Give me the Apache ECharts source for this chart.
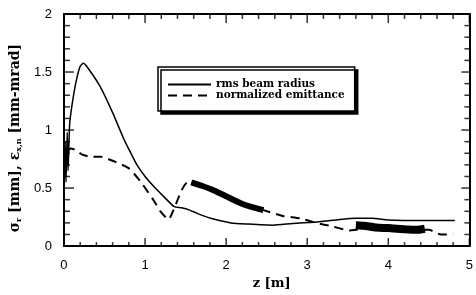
<!DOCTYPE html>
<html>
<head>
<meta charset="utf-8">
<script src="https://cdn.jsdelivr.net/npm/echarts@6/dist/echarts.min.js"></script>
<style>
  html, body { margin: 0; padding: 0; background: #fff; }
  #chart { width: 476px; height: 295px; }
</style>
</head>
<body>
<div id="chart"></div>
<script>
// values: [z (m), value]
var rmsRadius = [
  [0, 0.48], [0.015, 0.9], [0.025, 0.55], [0.04, 0.98], [0.05, 0.65], [0.07, 1.05],
  [0.1, 1.22], [0.15, 1.42], [0.2, 1.55], [0.24, 1.575], [0.3, 1.53], [0.45, 1.37],
  [0.6, 1.15], [0.74, 0.92], [0.84, 0.78], [0.9, 0.7], [1.0, 0.6], [1.1, 0.52],
  [1.24, 0.42], [1.36, 0.34], [1.45, 0.33], [1.55, 0.31], [1.65, 0.28], [1.81, 0.24],
  [2.06, 0.2], [2.26, 0.19], [2.58, 0.18], [2.82, 0.195], [3.15, 0.21], [3.4, 0.23],
  [3.6, 0.24], [3.8, 0.24], [4.0, 0.225], [4.4, 0.22], [4.82, 0.22]
];
var emittance = [
  [0, 0.55], [0.02, 0.72], [0.04, 0.8], [0.08, 0.84], [0.14, 0.83], [0.22, 0.79],
  [0.33, 0.77], [0.45, 0.77], [0.62, 0.73], [0.8, 0.67], [0.94, 0.56], [1.1, 0.4],
  [1.2, 0.29], [1.29, 0.23], [1.35, 0.31], [1.45, 0.48], [1.51, 0.545], [1.57, 0.56],
  [1.85, 0.48], [2.18, 0.37], [2.46, 0.31], [2.7, 0.26], [2.91, 0.24], [3.11, 0.2],
  [3.31, 0.17], [3.52, 0.135], [3.6, 0.14], [3.8, 0.16], [4.0, 0.15], [4.3, 0.14],
  [4.5, 0.14], [4.65, 0.1], [4.8, 0.1]
];
// noisy (thick) stretches of the emittance curve
var emitNoise1 = [[1.57, 0.55], [1.7, 0.52], [1.85, 0.48], [2.0, 0.43], [2.18, 0.37], [2.3, 0.34], [2.46, 0.31]];
var emitNoise2 = [[3.6, 0.18], [3.7, 0.175], [3.85, 0.16], [4.0, 0.155], [4.2, 0.145], [4.35, 0.14], [4.45, 0.15]];

// tick positions
var xMajorTicks = [0, 1, 2, 3, 4, 5];
var xMinorTicks = [0.2, 0.4, 0.6, 0.8, 1.2, 1.4, 1.6, 1.8, 2.2, 2.4, 2.6, 2.8, 3.2, 3.4, 3.6, 3.8, 4.2, 4.4, 4.6, 4.8];
var yMajorTicks = [0, 0.5, 1, 1.5, 2];
var yMinorTicks = [0.1, 0.2, 0.3, 0.4, 0.6, 0.7, 0.8, 0.9, 1.1, 1.2, 1.3, 1.4, 1.6, 1.7, 1.8, 1.9];

var xTicks = { min: 0, max: 5, interval: 1 };
var yTicks = { min: 0, max: 2, interval: 0.5 };

var chart = echarts.init(document.getElementById('chart'));

function axisLine(onZero) {
  return { show: true, onZero: onZero, lineStyle: { color: '#000', width: 2 } };
}
function labels(margin) {
  return { margin: margin, color: '#000', fontFamily: 'Liberation Sans', fontSize: 13 };
}
// inward tick marks drawn as small rects on the axis scales
function tickSeries(points, size, offset) {
  return {
    type: 'scatter', data: points, symbol: 'rect',
    symbolSize: size, symbolOffset: offset,
    itemStyle: { color: '#000' }, clip: false, silent: true, z: 5
  };
}
var tickMarks = [
  tickSeries(xMajorTicks.map(function (v) { return [v, 0]; }), [1.5, 8], [0, -4]),
  tickSeries(xMinorTicks.map(function (v) { return [v, 0]; }), [1.5, 4], [0, -2]),
  tickSeries(xMajorTicks.map(function (v) { return [v, 2]; }), [1.5, 9], [0, 4.5]),
  tickSeries(xMinorTicks.map(function (v) { return [v, 2]; }), [1.5, 5], [0, 2.5]),
  tickSeries(yMajorTicks.map(function (v) { return [0, v]; }), [10, 1.5], [5, 0]),
  tickSeries(yMinorTicks.map(function (v) { return [0, v]; }), [6, 1.5], [3, 0]),
  tickSeries(yMajorTicks.map(function (v) { return [5, v]; }), [8, 1.5], [-4, 0]),
  tickSeries(yMinorTicks.map(function (v) { return [5, v]; }), [5, 1.5], [-2.5, 0])
];

var option = {
  animation: false,
  grid: { left: 61, right: 4, top: 14, bottom: 46 },
  legend: {
    data: ['rms beam radius', 'normalized emittance'],
    orient: 'vertical',
    left: 158, top: 67,
    padding: [12, 10, 10, 9],
    itemWidth: 43, itemHeight: 8, itemGap: 0,
    itemStyle: { color: 'rgba(0,0,0,0)', borderWidth: 0, opacity: 0 },
    backgroundColor: '#fff',
    borderColor: '#000', borderWidth: 1.5, borderRadius: 0,
    shadowColor: '#000', shadowBlur: 0, shadowOffsetX: 3, shadowOffsetY: 3,
    textStyle: { color: '#000', fontFamily: 'DejaVu Serif', fontWeight: 'bold', fontSize: 10.5, lineHeight: 9 }
  },
  xAxis: [{
    type: 'value', min: xTicks.min, max: xTicks.max, interval: xTicks.interval,
    name: 'z [m]', nameLocation: 'middle', nameGap: 19,
    nameTextStyle: { color: '#000', fontFamily: 'DejaVu Serif', fontWeight: 'bold', fontSize: 13, padding: [0, 0, 0, 10] },
    axisLine: axisLine(true),
    axisTick: { show: false },
    axisLabel: labels(13),
    splitLine: { show: false }
  }, {
    type: 'value', position: 'top', min: xTicks.min, max: xTicks.max, interval: xTicks.interval,
    axisLine: axisLine(false),
    axisTick: { show: false },
    axisLabel: { show: false },
    splitLine: { show: false }
  }],
  yAxis: [{
    type: 'value', min: yTicks.min, max: yTicks.max, interval: yTicks.interval,
    name: '{a|σ}{s|r}{a| [mm], ε}{s|x,n}{a| [mm-mrad]}',
    nameLocation: 'middle', nameGap: 39,
    nameTextStyle: {
      padding: [0, 16, 0, 0],
      rich: {
        a: { color: '#000', fontFamily: 'DejaVu Serif', fontWeight: 'bold', fontSize: 14 },
        s: { color: '#000', fontFamily: 'DejaVu Serif', fontWeight: 'bold', fontSize: 8, padding: [8, 0, 0, 0] }
      }
    },
    axisLine: axisLine(true),
    axisTick: { show: false },
    axisLabel: labels(12),
    splitLine: { show: false }
  }, {
    type: 'value', position: 'right', min: yTicks.min, max: yTicks.max, interval: yTicks.interval,
    axisLine: axisLine(false),
    axisTick: { show: false },
    axisLabel: { show: false },
    splitLine: { show: false }
  }],
  series: [{
    name: 'rms beam radius', type: 'line', data: rmsRadius,
    symbol: 'none', smooth: 0.2, color: '#000',
    lineStyle: { color: '#000', width: 1.5 }
  }, {
    name: 'normalized emittance', type: 'line', data: emittance,
    symbol: 'none', smooth: 0.2, color: '#000',
    lineStyle: { color: '#000', width: 2, type: [9, 6] }
  }, {
    name: 'noise1', type: 'line', data: emitNoise1,
    symbol: 'none', smooth: 0.2, color: '#000',
    lineStyle: { color: '#000', width: 6 }
  }, {
    name: 'noise2', type: 'line', data: emitNoise2,
    symbol: 'none', smooth: 0.2, color: '#000',
    lineStyle: { color: '#000', width: 8 }
  }].concat(tickMarks)
};
chart.setOption(option);
</script>
</body>
</html>
